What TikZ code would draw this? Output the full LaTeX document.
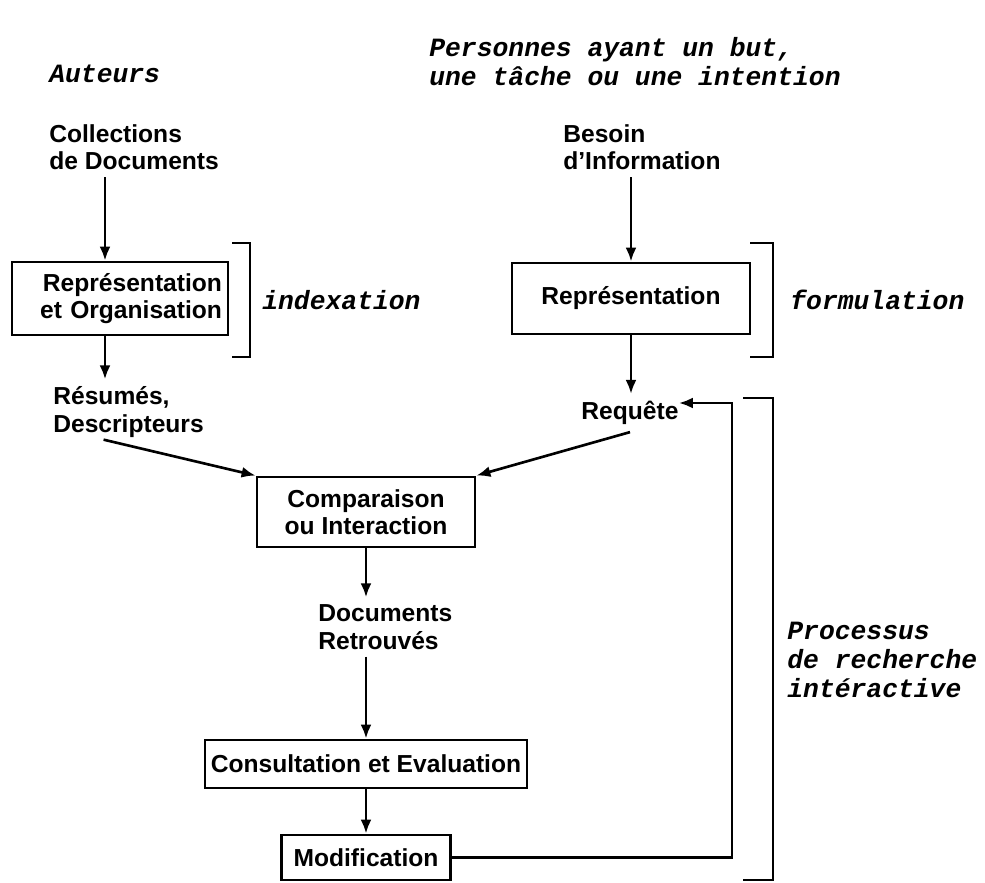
\documentclass[tikz,border=0pt]{standalone}
\usepackage{fontspec}
\setmainfont{Liberation Sans}
\setmonofont{Liberation Mono}
\usetikzlibrary{positioning,arrows.meta}

\tikzset{
  etiq/.style={font=\bfseries\fontsize{14}{15.6}\selectfont, align=left, inner xsep=0pt, inner ysep=4pt},
  boite/.style={draw, line width=1.6pt, font=\bfseries\fontsize{14}{15.6}\selectfont, align=center},
  note/.style={font=\ttfamily\bfseries\itshape\fontsize{15}{16.5}\selectfont, align=left, inner xsep=0pt},
  crochet/.style={line width=1pt},
  fleche/.style={->, line width=1.5pt},
}

\begin{document}
\begin{tikzpicture}[>={Latex[length=2.8mm,width=2.2mm]}]
    \useasboundingbox (0,0) rectangle (19.7,17.64);

    % en-tetes
    \node[note, anchor=west] (auteurs) at (0.98,16.16) {Auteurs};
    \node[note, anchor=west] (personnes) at (8.58,16.41) {Personnes ayant un but,\\une tâche ou une intention};

    % cote documents
    \node[etiq, anchor=west] (collections) at (0.98,14.70) {Collections\\de Documents};
    \node[boite, align=right, inner xsep=0.12cm, text width=4.08cm, minimum height=1.46cm] (reporg) at (2.4,11.67) {Représentation\\et Organisation};
    \node[etiq, anchor=west] (resumes) at (1.06,9.40) {Résumés,\\Descripteurs};

    % cote usager
    \node[etiq, anchor=west] (besoin) at (11.26,14.70) {Besoin\\d’Information};
    \node[boite, minimum width=4.76cm, minimum height=1.42cm] (rep) at (12.62,11.67) {Représentation};
    \node[etiq] (requete) at (12.6,9.38) {Requête};

    % comparaison et boucle
    \node[boite, minimum width=4.36cm, minimum height=1.40cm] (comp) at (7.32,7.40) {Comparaison\\ou Interaction};
    \node[etiq, anchor=west] (docs) at (6.36,5.10) {Documents\\Retrouvés};
    \node[boite, minimum height=0.96cm] (consult) at (7.32,2.36) {Consultation et Evaluation};
    \node[boite, minimum width=3.38cm, minimum height=0.9cm] (modif) at (7.32,0.49) {Modification};

    % fleches
    \coordinate (g) at ([xshift=-3mm]reporg.north);
    \coordinate (gb) at ([xshift=-3mm]reporg.south);
    \draw[fleche] (collections.south -| g) -- (g);
    \draw[fleche] (gb) -- (gb |- resumes.north);
    \draw[fleche] (besoin.south -| rep.north) -- (rep.north);
    \draw[fleche] (rep.south) -- (rep.south |- requete.north);
    \draw[fleche] ([xshift=-5mm,yshift=1mm]resumes.south) -- (comp.north west);
    \draw[fleche] (requete.south) -- (comp.north east);
    \draw[fleche] (comp.south) -- (docs.north -| comp.south);
    \draw[fleche] (docs.south -| comp.south) -- (consult.north);
    \draw[fleche] (consult.south) -- (modif.north);
    \coordinate (retour) at (14.64,0);
    \draw[fleche] (modif.east) -- (modif.east -| retour) |- ([yshift=2mm]requete.east);

    % crochets
    \draw[crochet] (4.64,12.78) -- (5.0,12.78) -- (5.0,10.5) -- (4.64,10.5);
    \node[note, anchor=west] (indexation) at (5.24,11.64) {indexation};
    \draw[crochet] (15.0,12.78) -- (15.46,12.78) -- (15.46,10.5) -- (15.0,10.5);
    \node[note, anchor=west] (formulation) at (15.8,11.64) {formulation};
    \draw[crochet] (14.86,9.68) -- (15.46,9.68) -- (15.46,0.04) -- (14.86,0.04);
    \node[note, anchor=west] (processus) at (15.74,4.44) {Processus\\de recherche\\intéractive};
\end{tikzpicture}
\end{document}
